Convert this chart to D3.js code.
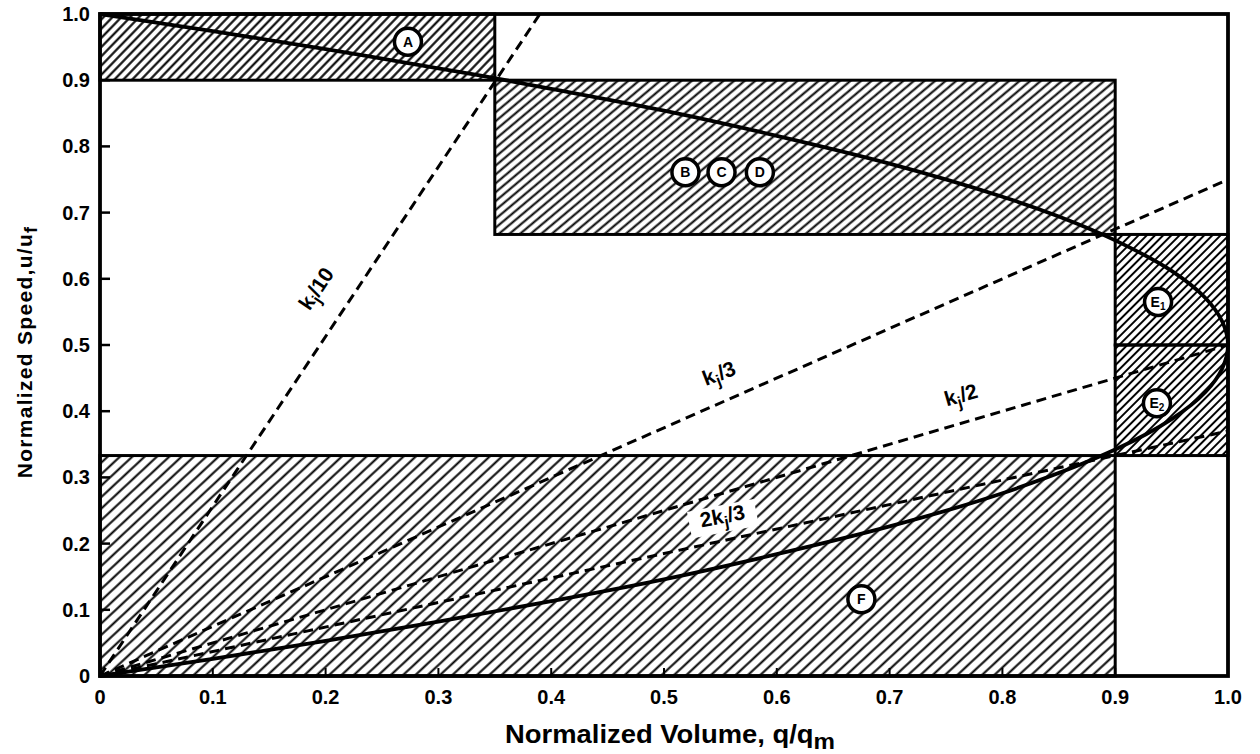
<!DOCTYPE html>
<html><head><meta charset="utf-8">
<script src="https://cdn.jsdelivr.net/npm/d3@7"></script>
<style>body{margin:0;background:#fff}</style>
</head><body><svg id="c" width="1260" height="754"></svg>
<script>
// ---- data ----
const xTickValues = [0,0.1,0.2,0.3,0.4,0.5,0.6,0.7,0.8,0.9,1.0];
const xTickLabels = ["0","0.1","0.2","0.3","0.4","0.5","0.6","0.7","0.8","0.9","1.0"];
const yTickValues = [0,0.1,0.2,0.3,0.4,0.5,0.6,0.7,0.8,0.9,1.0];
const yTickLabels = ["0","0.1","0.2","0.3","0.4","0.5","0.6","0.7","0.8","0.9","1.0"];

const regionNames = ["A","BCD","E1","E2","F"];
const regionQ0 = [0, 0.35, 0.9, 0.9, 0];
const regionQ1 = [0.35, 0.9, 1.0, 1.0, 0.9];
const regionU0 = [0.9, 0.667, 0.5, 0.333, 0];
const regionU1 = [1.0, 0.9, 0.667, 0.5, 0.333];

// speed-volume curve, read point by point (upper branch then lower branch)
const curveQ = [0,0.05,0.1,0.2,0.3,0.35,0.4,0.5,0.6,0.7,0.8,0.85,0.9,0.95,0.98,0.995,1.0,
                0.995,0.98,0.95,0.9,0.8,0.7,0.6,0.5,0.4,0.3,0.2,0.1,0.05,0];
const curveU = [1.0,0.987,0.974,0.947,0.918,0.903,0.887,0.854,0.816,0.774,0.724,0.694,0.658,0.612,0.571,0.535,0.5,
                0.465,0.429,0.388,0.342,0.276,0.226,0.184,0.146,0.113,0.082,0.053,0.026,0.013,0];

// constant-density rays from the origin
const densityNames = ["kj/10","kj/3","kj/2","2kj/3"];
const densityEndQ = [0.39, 1.0, 1.0, 1.0];
const densityEndU = [1.0, 0.75, 0.5, 0.37];
const densityLabelQ = [0.197, 0.551, 0.765, 0.553];
const densityLabelU = [0.579, 0.447, 0.414, 0.231];
const densityLabelAngle = [-56, -21, -16, -11];

// circled region markers
const markerLetters = ["A","B","C","D","E","E","F"];
const markerSubs = ["","","","","1","2",""];
const markerQ = [0.273,0.519,0.551,0.585,0.938,0.937,0.675];
const markerU = [0.958,0.761,0.761,0.761,0.565,0.412,0.116];

// ---- drawing ----
const svg = d3.select("#c");
const x = d3.scaleLinear().domain([0,1]).range([100,1228]);
const y = d3.scaleLinear().domain([0,1]).range([676,14]);

const defs = svg.append("defs");
function hatch(id, spacing, angle, w){
  const p = defs.append("pattern").attr("id",id).attr("patternUnits","userSpaceOnUse")
    .attr("width",spacing).attr("height",20).attr("patternTransform",`rotate(${angle})`);
  p.append("line").attr("x1",spacing/2).attr("x2",spacing/2).attr("y1",-2).attr("y2",22)
    .attr("stroke","#000").attr("stroke-width",w);
}
hatch("hA",6.4,44,2.1);
hatch("hB",6.8,50,2.0);
hatch("hE",5.8,45,2.0);
hatch("hF",8.4,47,2.0);
const regionPattern = ["hA","hB","hE","hE","hF"];

const g = svg.append("g");
g.selectAll("rect.reg").data(regionNames).join("rect").attr("class","reg")
  .attr("x",(d,i)=>x(regionQ0[i])).attr("y",(d,i)=>y(regionU1[i]))
  .attr("width",(d,i)=>x(regionQ1[i])-x(regionQ0[i]))
  .attr("height",(d,i)=>y(regionU0[i])-y(regionU1[i]))
  .attr("fill",(d,i)=>`url(#${regionPattern[i]})`)
  .attr("stroke","#000").attr("stroke-width",3);

// white patch behind 2kj/3 label
const li = 3;
g.append("rect")
  .attr("x",-34).attr("y",-18).attr("width",68).attr("height",27)
  .attr("transform",`translate(${x(densityLabelQ[li])},${y(densityLabelU[li])}) rotate(${densityLabelAngle[li]})`)
  .attr("fill","#fff");

// density rays
g.selectAll("line.ray").data(densityNames).join("line").attr("class","ray")
  .attr("x1",x(0)).attr("y1",y(0))
  .attr("x2",(d,i)=>x(densityEndQ[i])).attr("y2",(d,i)=>y(densityEndU[i]))
  .attr("stroke","#000").attr("stroke-width",3).attr("stroke-dasharray","10,6");

// speed-volume curve
const pts = curveQ.map((q,i)=>[q,curveU[i]]);
g.append("path").datum(pts)
  .attr("d",d3.line().x(d=>x(d[0])).y(d=>y(d[1])).curve(d3.curveCatmullRom.alpha(0.5)))
  .attr("fill","none").attr("stroke","#000").attr("stroke-width",3.8);

// frame
g.append("rect").attr("x",x(0)).attr("y",y(1)).attr("width",x(1)-x(0)).attr("height",y(0)-y(1))
  .attr("fill","none").attr("stroke","#000").attr("stroke-width",3.8);

// ticks (inward)
g.selectAll("line.yt").data(yTickValues).join("line").attr("class","yt")
  .attr("x1",x(0)).attr("x2",x(0)+10).attr("y1",d=>y(d)).attr("y2",d=>y(d))
  .attr("stroke","#000").attr("stroke-width",2.5);
g.selectAll("line.xt").data(xTickValues).join("line").attr("class","xt")
  .attr("x1",d=>x(d)).attr("x2",d=>x(d)).attr("y1",y(0)).attr("y2",y(0)-8)
  .attr("stroke","#000").attr("stroke-width",2);

const tickFont = "'Liberation Sans', Arial, sans-serif";
g.selectAll("text.yl").data(yTickValues).join("text").attr("class","yl")
  .attr("x",90).attr("y",d=>y(d)+7).attr("text-anchor","end")
  .attr("font-family",tickFont).attr("font-weight","bold").attr("font-size",20)
  .text((d,i)=>yTickLabels[i]);
g.selectAll("text.xl").data(xTickValues).join("text").attr("class","xl")
  .attr("x",d=>x(d)).attr("y",704).attr("text-anchor","middle")
  .attr("font-family",tickFont).attr("font-weight","bold").attr("font-size",20)
  .text((d,i)=>xTickLabels[i]);

// axis titles
const xt = svg.append("text").attr("x",670).attr("y",743).attr("text-anchor","middle")
  .attr("font-family",tickFont).attr("font-weight","bold")
  .attr("font-size",25).attr("textLength",330).attr("lengthAdjust","spacingAndGlyphs");
xt.append("tspan").text("Normalized Volume, q/q");
xt.append("tspan").attr("baseline-shift","-25%").attr("font-size",22).text("m");

const yt = svg.append("text").attr("transform","translate(32,352) rotate(-90)").attr("text-anchor","middle")
  .attr("font-family",tickFont)
  .attr("font-size",21).attr("font-weight","bold").attr("letter-spacing",1.3);
yt.append("tspan").text("Normalized Speed,u/u");
yt.append("tspan").attr("baseline-shift","-25%").attr("font-size",18).text("f");

// density labels
densityNames.forEach((n,i)=>{
  const t = svg.append("text")
    .attr("transform",`translate(${x(densityLabelQ[i])},${y(densityLabelU[i])}) rotate(${densityLabelAngle[i]})`)
    .attr("text-anchor","middle").attr("font-family",tickFont).attr("font-weight","bold").attr("font-size",21);
  const pre = n.startsWith("2") ? "2" : "";
  const post = n.slice(n.indexOf("/"));
  t.append("tspan").text(pre+"k");
  t.append("tspan").attr("baseline-shift","-30%").attr("font-size",16).text("j");
  t.append("tspan").text(post);
});

// circled markers
markerLetters.forEach((m,i)=>{
  const mg = svg.append("g").attr("transform",`translate(${x(markerQ[i])},${y(markerU[i])})`);
  mg.append("circle").attr("r",13.5).attr("fill","#fff").attr("stroke","#000").attr("stroke-width",3.5);
  const t = mg.append("text").attr("text-anchor","middle").attr("y",5)
    .attr("font-family",tickFont).attr("font-weight","bold").attr("font-size",14);
  t.append("tspan").text(m);
  if (markerSubs[i]) t.append("tspan").attr("font-size",10).attr("baseline-shift","-30%").text(markerSubs[i]);
});
</script></body></html>
